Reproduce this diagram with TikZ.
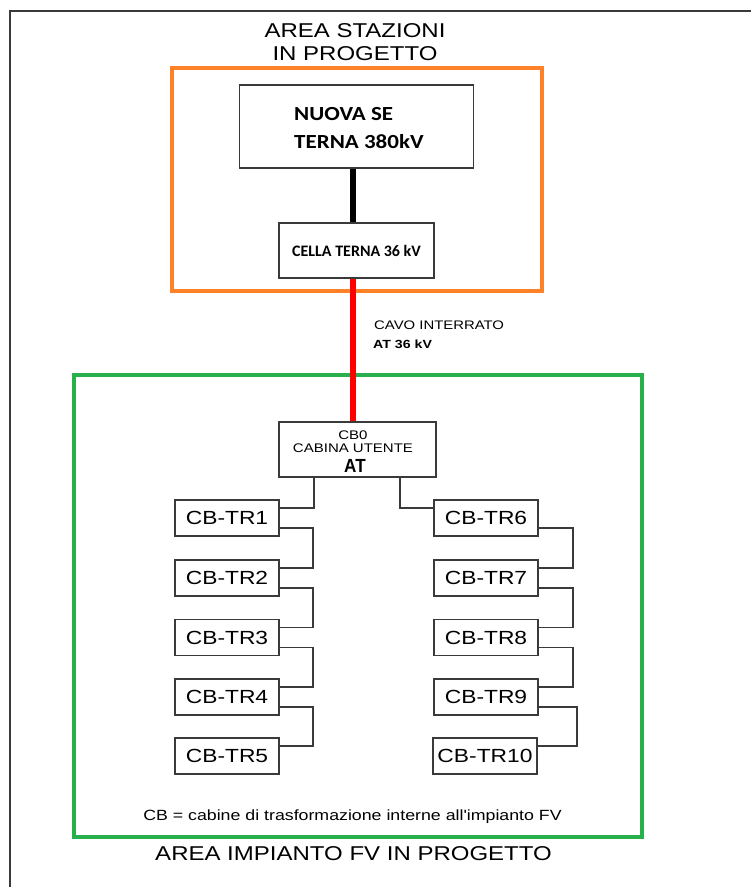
\documentclass[tikz,border=0pt]{standalone}
\usepackage{fontspec}
\setmainfont{Liberation Sans}
\newfontfamily\af[FakeStretch=1.2]{Liberation Sans}
\newfontfamily\an[FakeStretch=0.9]{Liberation Sans}
\newfontfamily\cf[FakeStretch=1.15]{Carlito}
\newfontfamily\cfn{Carlito}
\definecolor{frameg}{HTML}{3A3A3A}
\definecolor{orng}{HTML}{FF8128}
\definecolor{grn}{HTML}{27B04B}
\definecolor{rd}{HTML}{FF0000}
\tikzset{
  box/.style={draw=frameg, line width=1.4pt, inner sep=0pt, fill=white},
  trbox/.style={box, minimum width=104pt, minimum height=36pt, font=\af\fontsize{19}{21}\selectfont},
  link/.style={draw=frameg, line width=1.3pt},
  lbl/.style={inner sep=0pt, text=black}
}
\begin{document}
\begin{tikzpicture}[x=1pt,y=-1pt]
\useasboundingbox (0,0) rectangle (751,887);
% outer frame
\coordinate (ftl) at (10,11);
\draw[frameg, line width=2pt] (10,887) -- (ftl) -- (751,11);
% titles
\node[lbl, font=\af\fontsize{20}{24}\selectfont, align=center] (t1) at (355,42.5) {AREA STAZIONI\\[-1pt]IN PROGETTO};
% orange area
\draw[orng, line width=4.5pt] (172,68) rectangle (542,291);
% green area
\draw[grn, line width=4.5pt] (74,375) rectangle (642,837);
% SE box
\node[box, minimum width=234pt, minimum height=83pt] (se) at (356.5,126.5) {};
\node[lbl, anchor=west, align=left, font=\cf\bfseries\fontsize{20}{28}\selectfont] (setxt) at (294,128) {NUOVA SE\\TERNA 380kV};
% cella box
\node[box, minimum width=155pt, minimum height=55pt, font=\cfn\bfseries\fontsize{16}{18}\selectfont] (cella) at (356.5,250.5) {CELLA TERNA 36 kV};
\draw[black, line width=5.5pt] (se.south -| 353,0) -- (cella.north -| 353,0);
% CB0
\node[box, minimum width=157pt, minimum height=55pt] (cb0) at (357.5,449.5) {};
\node[lbl, font=\af\fontsize{12.5}{14}\selectfont] (cb0a) at (353,435.5) {CB0};
\node[lbl, font=\af\fontsize{12.5}{14}\selectfont] (cb0b) at (353,448) {CABINA UTENTE};
\node[lbl, font=\an\bfseries\fontsize{19}{20}\selectfont] (cb0c) at (355,466) {AT};
% red cable
\draw[rd, line width=6.5pt] (cella.south -| 353,0) -- (cb0.north -| 353,0);
\node[lbl, anchor=west, font=\af\fontsize{12.4}{14}\selectfont] (cavo) at (374,325.5) {CAVO INTERRATO};
\node[lbl, anchor=west, font=\af\bfseries\fontsize{11.8}{14}\selectfont] (cavo2) at (373,344) {AT 36 kV};
% TR boxes
\node[trbox] (tr1) at (227,518) {CB-TR1};
\node[trbox] (tr2) at (227,578) {CB-TR2};
\node[trbox] (tr3) at (227,637.5) {CB-TR3};
\node[trbox] (tr4) at (227,697) {CB-TR4};
\node[trbox] (tr5) at (227,756) {CB-TR5};
\node[trbox] (tr6) at (486,518) {CB-TR6};
\node[trbox] (tr7) at (486,578) {CB-TR7};
\node[trbox] (tr8) at (486,637.5) {CB-TR8};
\node[trbox] (tr9) at (486,697) {CB-TR9};
\node[trbox] (tr10) at (485,756) {CB-TR10};
% connectors from CB0
\draw[link] (cb0.south -| 314,0) |- ([yshift=10pt]tr1.east);
\draw[link] (cb0.south -| 400,0) |- ([yshift=10pt]tr6.west);
% chains
\foreach \a/\b/\x in {tr1/tr2/313,tr2/tr3/313,tr3/tr4/313,tr4/tr5/313,tr6/tr7/573,tr7/tr8/573,tr8/tr9/573,tr9/tr10/577}{
  \draw[link] ([yshift=-10pt]\a.east) -| ([yshift=10pt]\b.east -| \x,0) -- ([yshift=10pt]\b.east);
}
% footnote and bottom title
\node[lbl, font=\af\fontsize{14.8}{16}\selectfont] (note) at (352.5,816.5) {CB = cabine di trasformazione interne all'impianto FV};
\node[lbl, font=\af\fontsize{20}{24}\selectfont] (t2) at (353.5,853.5) {AREA IMPIANTO FV IN PROGETTO};
\end{tikzpicture}
\end{document}
